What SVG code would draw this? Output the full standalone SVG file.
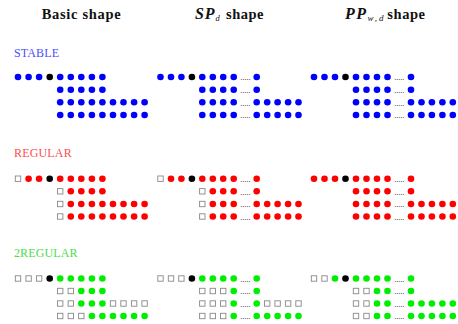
<svg xmlns="http://www.w3.org/2000/svg" width="458" height="324" viewBox="0 0 458 324">
<style>
.b{fill:#0000ff}.r{fill:#ff0000}.g{fill:#00ee00}.k{fill:#000}
.s{fill:#fff;stroke:#888;stroke-width:0.9}
</style>
<defs>
<circle id="B" r="3.3" class="b"/>
<circle id="R" r="3.3" class="r"/>
<circle id="G" r="3.3" class="g"/>
<circle id="K" r="3.3" class="k"/>
<rect id="Q" x="-2.7" y="-2.7" width="5.4" height="5.4" class="s"/>
</defs>
<rect width="458" height="324" fill="#fff"/>
<g id="titles" font-family="'Liberation Serif', 'DejaVu Serif', serif" font-weight="bold" font-size="14.5" fill="#111">
<text x="41.7" y="18.5" textLength="79" lengthAdjust="spacing">Basic shape</text>
<text x="195" y="18.5" font-style="italic" font-size="16" textLength="19.5" lengthAdjust="spacing">SP</text>
<text x="215.5" y="20.8" font-style="italic" font-weight="normal" font-size="8.5">d</text>
<text x="226" y="18.5" textLength="37.5" lengthAdjust="spacing">shape</text>
<text x="345" y="18.5" font-style="italic" font-size="16" textLength="21" lengthAdjust="spacing">PP</text>
<text x="367.5" y="20.8" font-style="italic" font-weight="normal" font-size="9" textLength="16" lengthAdjust="spacing">w,d</text>
<text x="387.3" y="18.5" textLength="37.7" lengthAdjust="spacing">shape</text>
</g>
<g id="labels" font-family="'Liberation Serif', 'DejaVu Serif', serif" font-size="12">
<text x="14" y="56.7" fill="#4d4dff" textLength="45" lengthAdjust="spacing">STABLE</text>
<text x="14" y="156.7" fill="#ff4d4d" textLength="57.7" lengthAdjust="spacing">REGULAR</text>
<text x="14" y="256.7" fill="#4ddd4d" textLength="63.5" lengthAdjust="spacing">2REGULAR</text>
</g>
<g font-family="'Liberation Serif', 'DejaVu Serif', serif" font-size="8" fill="#000">
<!-- STABLE basic -->
<g id="stable-basic">
<g transform="translate(0,77)"><use href="#B" x="18"/><use href="#B" x="28.6"/><use href="#B" x="39.1"/><use href="#K" x="49.7"/><use href="#B" x="60.2"/><use href="#B" x="70.8"/><use href="#B" x="81.3"/><use href="#B" x="91.9"/><use href="#B" x="102.4"/></g>
<g transform="translate(0,89.7)"><use href="#B" x="60.2"/><use href="#B" x="70.8"/><use href="#B" x="81.3"/><use href="#B" x="91.9"/><use href="#B" x="102.4"/></g>
<g transform="translate(0,102.3)"><use href="#B" x="60.2"/><use href="#B" x="70.8"/><use href="#B" x="81.3"/><use href="#B" x="91.9"/><use href="#B" x="102.4"/><use href="#B" x="113"/><use href="#B" x="123.5"/><use href="#B" x="134.1"/><use href="#B" x="144.6"/></g>
<g transform="translate(0,115)"><use href="#B" x="60.2"/><use href="#B" x="70.8"/><use href="#B" x="81.3"/><use href="#B" x="91.9"/><use href="#B" x="102.4"/><use href="#B" x="113"/><use href="#B" x="123.5"/><use href="#B" x="134.1"/><use href="#B" x="144.6"/></g>
</g>
<!-- STABLE SP -->
<g id="stable-sp">
<g transform="translate(0,77)"><use href="#B" x="160.5"/><use href="#B" x="171"/><use href="#B" x="181.4"/><use href="#K" x="191.9"/><use href="#B" x="202.3"/><use href="#B" x="212.8"/><use href="#B" x="223.2"/><use href="#B" x="233.7"/><text x="240.5" y="3.2" textLength="10" lengthAdjust="spacing">.....</text><use href="#B" x="256.7"/></g>
<g transform="translate(0,89.7)"><use href="#B" x="202.3"/><use href="#B" x="212.8"/><use href="#B" x="223.2"/><use href="#B" x="233.7"/><text x="240.5" y="3.2" textLength="10" lengthAdjust="spacing">.....</text><use href="#B" x="256.7"/></g>
<g transform="translate(0,102.3)"><use href="#B" x="202.3"/><use href="#B" x="212.8"/><use href="#B" x="223.2"/><use href="#B" x="233.7"/><text x="240.5" y="3.2" textLength="10" lengthAdjust="spacing">.....</text><use href="#B" x="256.7"/><use href="#B" x="267.2"/><use href="#B" x="277.6"/><use href="#B" x="288.1"/><use href="#B" x="298.5"/></g>
<g transform="translate(0,115)"><use href="#B" x="202.3"/><use href="#B" x="212.8"/><use href="#B" x="223.2"/><use href="#B" x="233.7"/><text x="240.5" y="3.2" textLength="10" lengthAdjust="spacing">.....</text><use href="#B" x="256.7"/><use href="#B" x="267.2"/><use href="#B" x="277.6"/><use href="#B" x="288.1"/><use href="#B" x="298.5"/></g>
</g>
<!-- STABLE PP -->
<g id="stable-pp">
<g transform="translate(0,77)"><use href="#B" x="314"/><use href="#B" x="324.5"/><use href="#B" x="335"/><use href="#K" x="345.5"/><use href="#B" x="356"/><use href="#B" x="366.5"/><use href="#B" x="377"/><use href="#B" x="387.5"/><text x="394.3" y="3.2" textLength="10" lengthAdjust="spacing">.....</text><use href="#B" x="411"/></g>
<g transform="translate(0,89.7)"><use href="#B" x="356"/><use href="#B" x="366.5"/><use href="#B" x="377"/><use href="#B" x="387.5"/><text x="394.3" y="3.2" textLength="10" lengthAdjust="spacing">.....</text><use href="#B" x="411"/></g>
<g transform="translate(0,102.3)"><use href="#B" x="356"/><use href="#B" x="366.5"/><use href="#B" x="377"/><use href="#B" x="387.5"/><text x="394.3" y="3.2" textLength="10" lengthAdjust="spacing">.....</text><use href="#B" x="411"/><use href="#B" x="421.5"/><use href="#B" x="431.9"/><use href="#B" x="442.4"/><use href="#B" x="452.8"/></g>
<g transform="translate(0,115)"><use href="#B" x="356"/><use href="#B" x="366.5"/><use href="#B" x="377"/><use href="#B" x="387.5"/><text x="394.3" y="3.2" textLength="10" lengthAdjust="spacing">.....</text><use href="#B" x="411"/><use href="#B" x="421.5"/><use href="#B" x="431.9"/><use href="#B" x="442.4"/><use href="#B" x="452.8"/></g>
</g>
<!-- REGULAR basic -->
<g id="regular-basic">
<g transform="translate(0,178.7)"><use href="#Q" x="18"/><use href="#R" x="28.6"/><use href="#R" x="39.1"/><use href="#K" x="49.7"/><use href="#R" x="60.2"/><use href="#R" x="70.8"/><use href="#R" x="81.3"/><use href="#R" x="91.9"/><use href="#R" x="102.4"/></g>
<g transform="translate(0,191.3)"><use href="#Q" x="60.2"/><use href="#R" x="70.8"/><use href="#R" x="81.3"/><use href="#R" x="91.9"/><use href="#R" x="102.4"/></g>
<g transform="translate(0,204)"><use href="#Q" x="60.2"/><use href="#R" x="70.8"/><use href="#R" x="81.3"/><use href="#R" x="91.9"/><use href="#R" x="102.4"/><use href="#R" x="113"/><use href="#R" x="123.5"/><use href="#R" x="134.1"/><use href="#R" x="144.6"/></g>
<g transform="translate(0,216.5)"><use href="#Q" x="60.2"/><use href="#R" x="70.8"/><use href="#R" x="81.3"/><use href="#R" x="91.9"/><use href="#R" x="102.4"/><use href="#R" x="113"/><use href="#R" x="123.5"/><use href="#R" x="134.1"/><use href="#R" x="144.6"/></g>
</g>
<!-- REGULAR SP -->
<g id="regular-sp">
<g transform="translate(0,178.7)"><use href="#Q" x="160.5"/><use href="#R" x="171"/><use href="#R" x="181.4"/><use href="#K" x="191.9"/><use href="#R" x="202.3"/><use href="#R" x="212.8"/><use href="#R" x="223.2"/><use href="#R" x="233.7"/><text x="240.5" y="3.2" textLength="10" lengthAdjust="spacing">.....</text><use href="#R" x="256.7"/></g>
<g transform="translate(0,191.3)"><use href="#Q" x="202.3"/><use href="#R" x="212.8"/><use href="#R" x="223.2"/><use href="#R" x="233.7"/><text x="240.5" y="3.2" textLength="10" lengthAdjust="spacing">.....</text><use href="#R" x="256.7"/></g>
<g transform="translate(0,204)"><use href="#Q" x="202.3"/><use href="#R" x="212.8"/><use href="#R" x="223.2"/><use href="#R" x="233.7"/><text x="240.5" y="3.2" textLength="10" lengthAdjust="spacing">.....</text><use href="#R" x="256.7"/><use href="#R" x="267.2"/><use href="#R" x="277.6"/><use href="#R" x="288.1"/><use href="#R" x="298.5"/></g>
<g transform="translate(0,216.5)"><use href="#Q" x="202.3"/><use href="#R" x="212.8"/><use href="#R" x="223.2"/><use href="#R" x="233.7"/><text x="240.5" y="3.2" textLength="10" lengthAdjust="spacing">.....</text><use href="#R" x="256.7"/><use href="#R" x="267.2"/><use href="#R" x="277.6"/><use href="#R" x="288.1"/><use href="#R" x="298.5"/></g>
</g>
<!-- REGULAR PP -->
<g id="regular-pp">
<g transform="translate(0,178.7)"><use href="#R" x="314"/><use href="#R" x="324.5"/><use href="#R" x="335"/><use href="#K" x="345.5"/><use href="#R" x="356"/><use href="#R" x="366.5"/><use href="#R" x="377"/><use href="#R" x="387.5"/><text x="394.3" y="3.2" textLength="10" lengthAdjust="spacing">.....</text><use href="#R" x="411"/></g>
<g transform="translate(0,191.3)"><use href="#R" x="356"/><use href="#R" x="366.5"/><use href="#R" x="377"/><use href="#R" x="387.5"/><text x="394.3" y="3.2" textLength="10" lengthAdjust="spacing">.....</text><use href="#R" x="411"/></g>
<g transform="translate(0,204)"><use href="#R" x="356"/><use href="#R" x="366.5"/><use href="#R" x="377"/><use href="#R" x="387.5"/><text x="394.3" y="3.2" textLength="10" lengthAdjust="spacing">.....</text><use href="#R" x="411"/><use href="#R" x="421.5"/><use href="#R" x="431.9"/><use href="#R" x="442.4"/><use href="#R" x="452.8"/></g>
<g transform="translate(0,216.5)"><use href="#R" x="356"/><use href="#R" x="366.5"/><use href="#R" x="377"/><use href="#R" x="387.5"/><text x="394.3" y="3.2" textLength="10" lengthAdjust="spacing">.....</text><use href="#R" x="411"/><use href="#R" x="421.5"/><use href="#R" x="431.9"/><use href="#R" x="442.4"/><use href="#R" x="452.8"/></g>
</g>
<!-- 2REGULAR basic -->
<g id="2regular-basic">
<g transform="translate(0,278.5)"><use href="#Q" x="18"/><use href="#Q" x="28.6"/><use href="#Q" x="39.1"/><use href="#K" x="49.7"/><use href="#G" x="60.2"/><use href="#G" x="70.8"/><use href="#G" x="81.3"/><use href="#G" x="91.9"/><use href="#G" x="102.4"/></g>
<g transform="translate(0,291)"><use href="#Q" x="60.2"/><use href="#Q" x="70.8"/><use href="#G" x="81.3"/><use href="#G" x="91.9"/><use href="#G" x="102.4"/></g>
<g transform="translate(0,303.5)"><use href="#Q" x="60.2"/><use href="#Q" x="70.8"/><use href="#G" x="81.3"/><use href="#G" x="91.9"/><use href="#G" x="102.4"/><use href="#Q" x="113"/><use href="#Q" x="123.5"/><use href="#Q" x="134.1"/><use href="#Q" x="144.6"/></g>
<g transform="translate(0,316)"><use href="#Q" x="60.2"/><use href="#Q" x="70.8"/><use href="#Q" x="81.3"/><use href="#G" x="91.9"/><use href="#G" x="102.4"/><use href="#G" x="113"/><use href="#G" x="123.5"/><use href="#G" x="134.1"/><use href="#G" x="144.6"/></g>
</g>
<!-- 2REGULAR SP -->
<g id="2regular-sp">
<g transform="translate(0,278.5)"><use href="#Q" x="160.5"/><use href="#Q" x="171"/><use href="#Q" x="181.4"/><use href="#K" x="191.9"/><use href="#G" x="202.3"/><use href="#G" x="212.8"/><use href="#G" x="223.2"/><use href="#G" x="233.7"/><text x="240.5" y="3.2" textLength="10" lengthAdjust="spacing">.....</text><use href="#G" x="256.7"/></g>
<g transform="translate(0,291)"><use href="#Q" x="202.3"/><use href="#Q" x="212.8"/><use href="#Q" x="223.2"/><use href="#G" x="233.7"/><text x="240.5" y="3.2" textLength="10" lengthAdjust="spacing">.....</text><use href="#G" x="256.7"/></g>
<g transform="translate(0,303.5)"><use href="#Q" x="202.3"/><use href="#Q" x="212.8"/><use href="#Q" x="223.2"/><use href="#G" x="233.7"/><text x="240.5" y="3.2" textLength="10" lengthAdjust="spacing">.....</text><use href="#G" x="256.7"/><use href="#Q" x="267.2"/><use href="#Q" x="277.6"/><use href="#Q" x="288.1"/><use href="#Q" x="298.5"/></g>
<g transform="translate(0,316)"><use href="#Q" x="202.3"/><use href="#Q" x="212.8"/><use href="#Q" x="223.2"/><use href="#G" x="233.7"/><text x="240.5" y="3.2" textLength="10" lengthAdjust="spacing">.....</text><use href="#G" x="256.7"/><use href="#G" x="267.2"/><use href="#G" x="277.6"/><use href="#G" x="288.1"/><use href="#G" x="298.5"/></g>
</g>
<!-- 2REGULAR PP -->
<g id="2regular-pp">
<g transform="translate(0,278.5)"><use href="#Q" x="314"/><use href="#Q" x="324.5"/><use href="#G" x="335"/><use href="#K" x="345.5"/><use href="#G" x="356"/><use href="#G" x="366.5"/><use href="#G" x="377"/><use href="#G" x="387.5"/><text x="394.3" y="3.2" textLength="10" lengthAdjust="spacing">.....</text><use href="#G" x="411"/></g>
<g transform="translate(0,291)"><use href="#Q" x="356"/><use href="#Q" x="366.5"/><use href="#G" x="377"/><use href="#G" x="387.5"/><text x="394.3" y="3.2" textLength="10" lengthAdjust="spacing">.....</text><use href="#G" x="411"/></g>
<g transform="translate(0,303.5)"><use href="#Q" x="356"/><use href="#Q" x="366.5"/><use href="#G" x="377"/><use href="#G" x="387.5"/><text x="394.3" y="3.2" textLength="10" lengthAdjust="spacing">.....</text><use href="#G" x="411"/><use href="#G" x="421.5"/><use href="#G" x="431.9"/><use href="#G" x="442.4"/><use href="#G" x="452.8"/></g>
<g transform="translate(0,316)"><use href="#Q" x="356"/><use href="#Q" x="366.5"/><use href="#G" x="377"/><use href="#G" x="387.5"/><text x="394.3" y="3.2" textLength="10" lengthAdjust="spacing">.....</text><use href="#G" x="411"/><use href="#G" x="421.5"/><use href="#G" x="431.9"/><use href="#G" x="442.4"/><use href="#G" x="452.8"/></g>
</g>
</g>
<g id="connectors"></g>
</svg>
